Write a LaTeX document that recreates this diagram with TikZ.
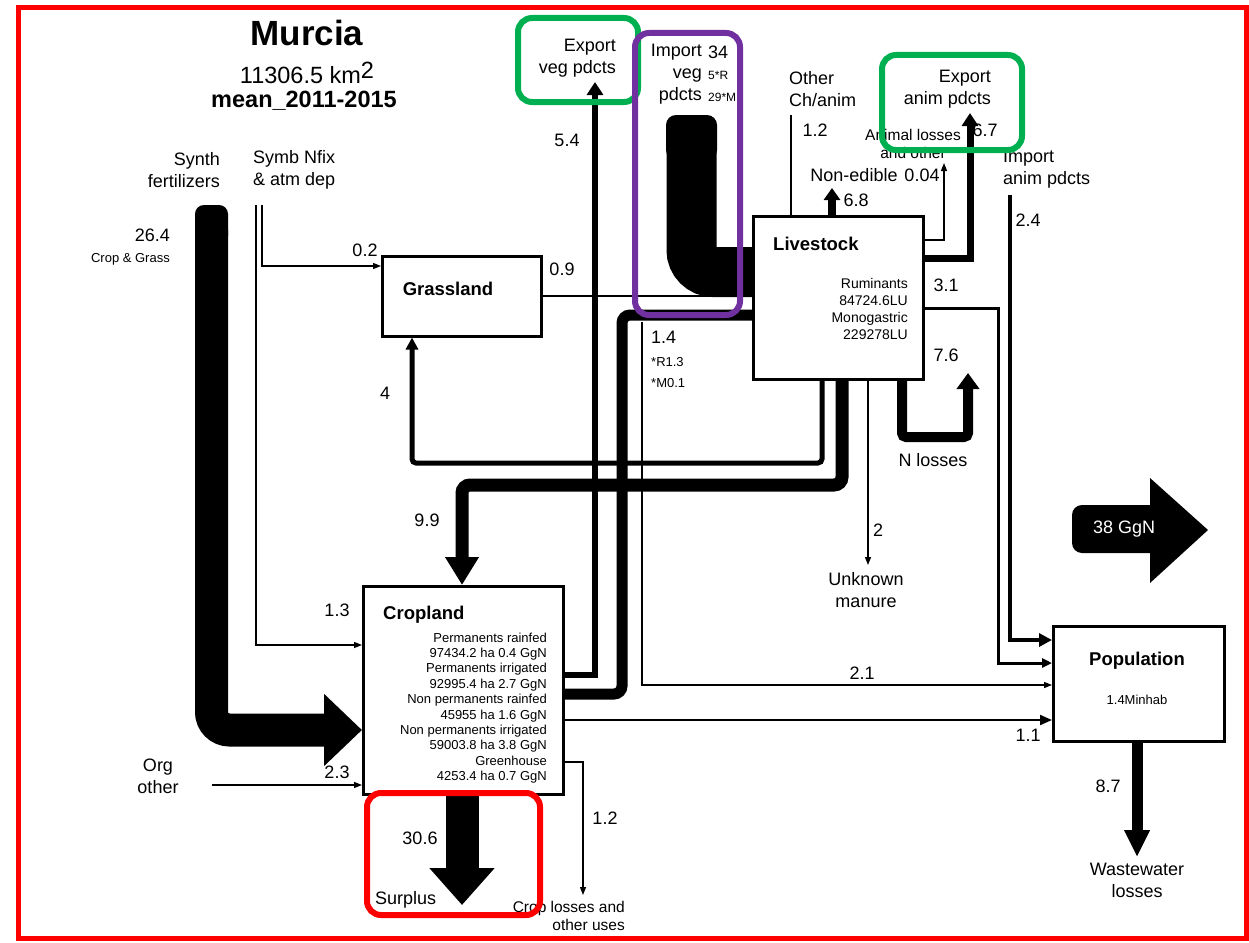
\documentclass[tikz,border=0pt]{standalone}
\usepackage{fontspec}
\setmainfont{Liberation Sans}
\usetikzlibrary{arrows.meta,calc}
\definecolor{hlgreen}{RGB}{0,176,80}
\definecolor{hlpurple}{RGB}{112,48,160}
\begin{document}
\begin{tikzpicture}[x=1pt,y=-1pt,
  box/.style={draw, line width=2.5pt, fill=white, anchor=north west, inner sep=0pt},
  lbl/.style={font=\fontsize{18}{22}\selectfont, inner sep=0pt},
  sm/.style={font=\fontsize{13}{15.4}\selectfont, inner sep=0pt},
  mid/.style={font=\fontsize{14}{16.7}\selectfont, inner sep=0pt},
  ttl/.style={font=\fontsize{18.5}{22}\selectfont\bfseries, inner sep=0pt},
  thinflow/.style={line width=1.3pt, -{Triangle[length=8pt,width=6pt]}},
  plainflow/.style={line width=1.3pt},
  hl/.style={line width=6pt, rounded corners=14pt}
]
\useasboundingbox (0,0) rectangle (1249,942);
\fill[white] (0,0) rectangle (1249,942);

% ---------- boxes ----------
\node[box, minimum width=159pt, minimum height=80pt] (grass) at (381,255) {};
\node[box, minimum width=170pt, minimum height=163pt] (live) at (752,215) {};
\node[box, minimum width=200pt, minimum height=208pt] (crop) at (362,585) {};
\node[box, minimum width=171pt, minimum height=115pt] (pop) at (1052,625) {};

% ---------- title ----------
\node[inner sep=0pt, font=\fontsize{35}{40}\selectfont\bfseries] (title) at (307,33) {Murcia};
\node[inner sep=0pt, font=\fontsize{23.5}{26}\selectfont] (area) at (307,73) {11306.5 km\raisebox{0.45ex}{2}};
\node[inner sep=0pt, font=\fontsize{23.5}{26}\selectfont\bfseries] (period) at (304,101) {mean\_2011-2015};

% ---------- thick flows ----------
% synthetic fertilizers
\fill[rounded corners=9pt] (195,205) rectangle (228,245);
\draw[line width=33pt, rounded corners=18pt, -{Triangle[length=38pt,width=70pt]}]
  (211.5,230) -- (211.5,730) -- ($(crop.north west)+(0,145)$);
% import veg
\fill[rounded corners=10pt] (666,115) rectangle (717,160);
\draw[line width=50pt, rounded corners=22pt] (691.5,140) -- (691.5,272) -- ($(live.north west)+(0,57)$);
% cropland -> livestock feed
\draw[line width=11pt, rounded corners=8pt]
  ($(crop.north east)+(0,109)$) -- (622,694) -- (622,315) -- ($(live.north west)+(0,100)$);
% export veg
\draw[line width=6pt, -{Triangle[length=13pt,width=16pt]}]
  ($(crop.north east)+(0,90)$) -- (595,675) -- (595,82);
% grassland -> livestock
\draw[plainflow] ($(grass.north east)+(0,41)$) -- ($(live.north west)+(0,81)$);
% livestock -> cropland
\draw[line width=13pt, rounded corners=8pt, -{Triangle[length=28pt,width=32pt]}]
  ($(live.south west)+(90,0)$) -- (842,485) -- (462,485) -- ($(crop.north west)+(100,0)$);
% livestock -> grassland
\draw[line width=5pt, rounded corners=4pt, -{Triangle[length=12pt,width=12pt]}]
  ($(live.south west)+(70,0)$) -- (822,463) -- (412,463) -- ($(grass.south west)+(31,0)$);
% N losses
\draw[line width=10pt, rounded corners=4pt, -{Triangle[length=16pt,width=22pt]}]
  ($(live.south west)+(150,0)$) -- (902,437) -- (968,437) -- (968,373);
% unknown manure
\draw[thinflow] ($(live.south west)+(116,0)$) -- (868,565);
% export anim
\draw[line width=7pt, -{Triangle[length=13pt,width=16pt]}]
  ($(live.north east)+(0,43)$) -- (970,258) -- (970,113);
% animal losses
\draw[thinflow] ($(live.north east)+(0,25)$) -- (944,240) -- (944,163);
% non-edible
\draw[line width=8pt, -{Triangle[length=12pt,width=16pt]}] ($(live.north west)+(80,0)$) -- (832,188);
% other ch/anim
\draw[plainflow] (791,115) -- ($(live.north west)+(39,0)$);
% livestock -> population
\draw[line width=3pt, -{Triangle[length=10pt,width=9pt]}]
  ($(live.north east)+(0,93)$) -- (998,308) -- (998,663) -- ($(pop.north west)+(0,38)$);
% import anim
\draw[line width=4pt, -{Triangle[length=13pt,width=13pt]}]
  (1010,195) -- (1010,640) -- ($(pop.north west)+(0,15)$);
% 2.1
\draw[thinflow] (642,322) -- (642,685) -- ($(pop.north west)+(0,60)$);
% 1.1
\draw[line width=2pt, -{Triangle[length=12pt,width=10pt]}]
  ($(crop.north east)+(0,135)$) -- ($(pop.north west)+(0,95)$);
% crop losses
\draw[thinflow] ($(crop.north east)+(0,177)$) -- (583,762) -- (583,895);
% org other
\draw[thinflow] (212,785) -- ($(crop.north west)+(0,200)$);
% symb nfix
\draw[thinflow] (256,205) -- (256,645) -- ($(crop.north west)+(0,60)$);
\draw[thinflow] (262,205) -- (262,266) -- ($(grass.north west)+(0,11)$);
% surplus
\draw[line width=33pt, -{Triangle[length=37pt,width=63pt]}] ($(crop.south west)+(100,0)$) -- (462,905);
% wastewater
\draw[line width=11pt, -{Triangle[length=27pt,width=24pt]}] ($(pop.south west)+(85,0)$) -- (1137,857);

% 38 GgN arrow
\fill[rounded corners=10pt] (1072,505) rectangle (1162,553);
\fill (1150,478) -- (1208,530) -- (1150,583) -- cycle;
\node[lbl, text=white] (total) at (1124,529) {38 GgN};

% ---------- labels ----------
\node[lbl, align=right, anchor=east] (synth) at (220,170) {Synth\\fertilizers};
\node[lbl, align=left, anchor=west] (symb) at (253,170) {Symb Nfix\\\& atm dep};
\node[lbl, anchor=east] (v264) at (170,235) {26.4};
\node[sm, anchor=east] (cg) at (170,259) {Crop \& Grass};
\node[lbl] (v02) at (365,250) {0.2};
\node[lbl] (v09) at (562,269) {0.9};
\node[lbl] (v4) at (385,393) {4};
\node[lbl] (v54) at (567,140) {5.4};
\node[lbl, align=right, anchor=east] (expveg) at (616,58) {Export\\veg pdcts};
\node[lbl, align=right, anchor=east] (impveg) at (702,74) {Import\\veg\\pdcts};
\node[lbl, anchor=west] (v34) at (708,52) {34};
\node[font=\fontsize{12}{14}\selectfont, inner sep=0pt, anchor=west] (v5r) at (708,75) {5*R};
\node[font=\fontsize{12}{14}\selectfont, inner sep=0pt, anchor=west] (v29m) at (708,97) {29*M};
\node[lbl, align=left, anchor=west] (other) at (789,89) {Other\\Ch/anim};
\node[lbl] (v12a) at (815,130) {1.2};
\node[lbl, align=right, anchor=east] (expanim) at (991,89) {Export\\anim pdcts};
\node[font=\fontsize{15.5}{18}\selectfont, inner sep=0pt, align=center] (animloss) at (913,144) {Animal losses\\and other};
\node[lbl] (nonedible) at (854,175) {Non-edible};
\node[lbl] (v004) at (922,175) {0.04};
\node[lbl] (v68) at (856,200) {6.8};
\node[lbl] (v67) at (985,130) {6.7};
\node[lbl, align=left, anchor=west] (impanim) at (1003,169) {Import\\anim pdcts};
\node[lbl] (v24) at (1028,220) {2.4};
\node[ttl, anchor=west] (livet) at (773,244) {Livestock};
\node[mid, align=right, anchor=east] (lived) at (908,309) {Ruminants\\84724.6LU\\Monogastric\\229278LU};
\node[lbl] (v31) at (946,285) {3.1};
\node[lbl] (v76) at (946,355) {7.6};
\node[lbl, anchor=west] (v14) at (651,337) {1.4};
\node[sm, anchor=west] (r13) at (651,362) {*R1.3};
\node[sm, anchor=west] (m01) at (651,383) {*M0.1};
\node[lbl] (nloss) at (933,460) {N losses};
\node[lbl] (v2) at (878,530) {2};
\node[lbl, align=center] (unkn) at (866,590) {Unknown\\manure};
\node[ttl] (grasst) at (448,289) {Grassland};
\node[lbl] (v99) at (427,520) {9.9};
\node[lbl] (v13) at (337,610) {1.3};
\node[ttl, anchor=west] (cropt) at (383,615) {Cropland};
\node[sm, align=right, anchor=east] (cropd) at (547,708) {Permanents rainfed\\97434.2 ha 0.4 GgN\\Permanents irrigated\\92995.4 ha 2.7 GgN\\Non permanents rainfed\\45955 ha 1.6 GgN\\Non permanents irrigated\\59003.8 ha 3.8 GgN\\Greenhouse\\4253.4 ha 0.7 GgN};
\node[lbl] (v21) at (862,673) {2.1};
\node[lbl] (v11) at (1028,735) {1.1};
\node[ttl] (popt) at (1137,661) {Population};
\node[sm] (popd) at (1137,700) {1.4Minhab};
\node[lbl, align=center] (org) at (158,776) {Org\\other};
\node[lbl] (v23) at (337,772) {2.3};
\node[lbl] (v306) at (420,838) {30.6};
\node[lbl] (v12b) at (605,818) {1.2};
\node[lbl, anchor=west] (surplus) at (375,900) {Surplus};
\node[font=\fontsize{15.5}{18}\selectfont, inner sep=0pt, align=right, anchor=east] (croploss) at (625,916) {Crop losses and\\other uses};
\node[lbl] (v87) at (1108,786) {8.7};
\node[lbl, align=center] (waste) at (1137,880) {Wastewater\\losses};

% ---------- highlight frames ----------
\draw[hl, draw=hlgreen] (518,18) rectangle (638,102);
\draw[hl, draw=hlgreen] (882,55) rectangle (1022,150);
\draw[hl, draw=hlpurple] (635,33) rectangle (740,315);
\draw[hl, draw=red] (367,793) rectangle (540,915);
\draw[line width=5pt, draw=red] (18,8) rectangle (1246,938);
\end{tikzpicture}
\end{document}
